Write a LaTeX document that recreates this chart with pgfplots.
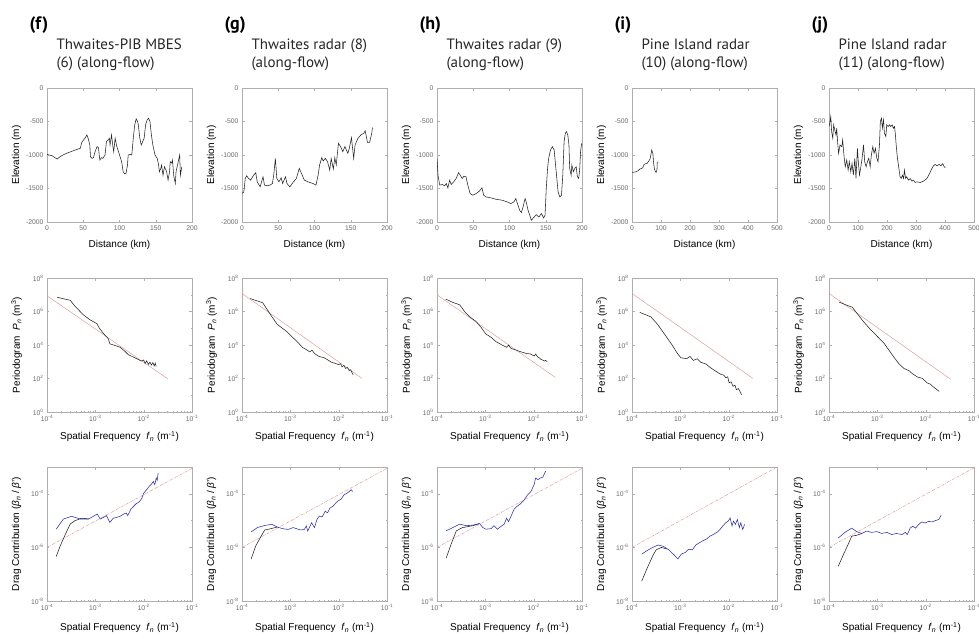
\documentclass[border=0pt]{standalone}
\usepackage{pgfplots}
\pgfplotsset{compat=1.18}
\usepackage{fontspec}
\setmainfont{Liberation Sans}
\newfontfamily\tfont{PT Sans}
\definecolor{ax}{RGB}{175,175,175}
\definecolor{tl}{RGB}{105,105,105}
\definecolor{fitR}{RGB}{222,150,150}
\definecolor{dragB}{RGB}{45,45,175}
\definecolor{dat}{RGB}{35,35,35}

\pgfplotsset{
  base/.style={scale only axis, width=145pt, height=134pt, anchor=north west,
    axis line style={draw=ax}, tick style={draw=ax, line width=0.3pt},
    tick align=inside, major tick length=2.5pt, minor tick length=1.3pt,
    ticklabel style={font=\fontsize{6.8}{8}\selectfont, text=tl},
    label style={font=\fontsize{9}{10}\selectfont, text=black!75},
    every axis y label/.style={at={(axis description cs:-0.21,0.5)}, rotate=90, anchor=center},
    every axis x label/.style={at={(axis description cs:0.5,-0.17)}, anchor=center},
    every axis plot/.append style={no marks, line width=0.5pt}},
  elev/.style={base, ymin=-2000, ymax=0, ytick={-2000,-1500,-1000,-500,0},
    yticklabels={-2000,-1500,-1000,-500,0}, ylabel={Elevation (m)}, xlabel={Distance (km)}},
  elevA/.style={elev, xmin=0, xmax=200, xtick={0,50,100,150,200}, xticklabels={0,50,100,150,200}},
  elevB/.style={elev, xmin=0, xmax=500, xtick={0,100,200,300,400,500}, xticklabels={0,100,200,300,400,500}},
  freq/.style={base, xmin=-4, xmax=-1, xtick={-4,-3,-2,-1},
    xticklabels={10\textsuperscript{-4},10\textsuperscript{-3},10\textsuperscript{-2},10\textsuperscript{-1}},
    minor xtick={-3.699,-3.523,-3.398,-3.301,-3.222,-3.155,-3.097,-3.046,
                 -2.699,-2.523,-2.398,-2.301,-2.222,-2.155,-2.097,-2.046,
                 -1.699,-1.523,-1.398,-1.301,-1.222,-1.155,-1.097,-1.046},
    xlabel={Spatial Frequency \ \textit{f}\textsubscript{\textit{n}} (m\textsuperscript{-1})}},
  peri/.style={freq, ymin=0, ymax=8, ytick={0,2,4,6,8},
    yticklabels={10\textsuperscript{0},10\textsuperscript{2},10\textsuperscript{4},10\textsuperscript{6},10\textsuperscript{8}},
    minor ytick={1,3,5,7},
    ylabel={Periodogram \ \textit{P}\textsubscript{\textit{n}} (m\textsuperscript{3})},
    every axis x label/.style={at={(axis description cs:0.5,-0.185)}, anchor=center}},
  drag/.style={freq, ymin=-8, ymax=-3, ytick={-8,-6,-4},
    yticklabels={10\textsuperscript{-8},10\textsuperscript{-6},10\textsuperscript{-4}},
    minor ytick={-7,-5},
    ylabel={Drag Contribution (\textit{β}\textsubscript{\textit{n}} / \textit{β}')},
    every axis x label/.style={at={(axis description cs:0.5,-0.2)}, anchor=center}},
  fit/.style={fitR, line width=0.45pt},
  fitd/.style={fitR, line width=0.45pt, dash pattern=on 3pt off 1pt on 0.6pt off 1pt},
  blk/.style={dat, line width=0.55pt},
  blu/.style={dragB, line width=0.55pt}
}

\newcommand\coltitle[4]{%
  \node[anchor=base west, font=\tfont\bfseries\fontsize{18}{20}\selectfont] at ({#1pt-21pt},-29pt) {#2};
  \node[anchor=base west, font=\tfont\fontsize{15}{17}\selectfont, text=black!85] at ({#1pt+6pt},-49pt) {#3};
  \node[anchor=base west, font=\tfont\fontsize{15}{17}\selectfont, text=black!85] at ({#1pt+6pt},-67pt) {#4};}

\begin{document}
\begin{tikzpicture}
\path[use as bounding box] (0,0) rectangle (979pt,-638pt);

\coltitle{47}{(f)}{Thwaites-PIB MBES}{(6) (along-flow)}
\coltitle{242}{(g)}{Thwaites radar (8)}{(along-flow)}
\coltitle{437}{(h)}{Thwaites radar (9)}{(along-flow)}
\coltitle{632}{(i)}{Pine Island radar}{(10) (along-flow)}
\coltitle{829}{(j)}{Pine Island radar}{(11) (along-flow)}

% ---------- row 1: elevation profiles ----------
\begin{axis}[elevA, at={(47pt,-88pt)}]
\addplot[blk] coordinates {(0,-990)(3,-1000)(7,-1010)(11,-1040)(14,-1060)(18,-1025)(22,-1000)(27,-975)(33,-950)(39,-925)(46,-900)(48,-810)(53,-740)(55,-700)(57,-760)(59,-850)(60,-1025)(62,-1050)(64,-1040)(66,-960)(69,-875)(71,-890)(72,-1000)(73,-1075)(75,-1040)(77,-1050)(80,-1000)(82,-800)(84,-780)(86,-750)(87,-850)(89,-700)(91,-880)(92,-950)(94,-750)(96,-860)(97,-900)(99,-960)(100,-1000)(103,-1100)(105,-1250)(107,-1280)(109,-1275)(111,-1150)(112,-1000)(115,-990)(117,-1000)(119,-750)(121,-550)(123,-460)(125,-500)(126,-550)(128,-750)(130,-850)(132,-800)(134,-750)(136,-550)(138,-480)(140,-450)(142,-500)(144,-700)(146,-850)(149,-1000)(152,-1050)(154,-1150)(155,-1250)(157,-1200)(158,-1150)(160,-1300)(162,-1175)(164,-1220)(165,-1250)(167,-1375)(169,-1250)(170,-1100)(172,-1120)(173,-1075)(175,-1325)(177,-1425)(178,-1250)(180,-1150)(181,-1100)(183,-1000)(184,-1300)(186,-1175)};
\end{axis}

\begin{axis}[elevA, at={(242pt,-88pt)}]
\addplot[blk] coordinates {(0,-1575)(2.5,-1550)(4.5,-1350)(6.5,-1310)(9,-1350)(12,-1375)(16,-1300)(19,-1265)(21,-1400)(25,-1475)(29,-1325)(31,-1450)(36,-1460)(40,-1440)(42,-1425)(44,-1275)(46,-1050)(48,-1350)(51,-1400)(54,-1340)(56,-1425)(60,-1325)(62,-1425)(66,-1475)(71,-1400)(75,-1350)(79,-1200)(82,-1275)(86,-1375)(91,-1400)(98,-1425)(102,-1450)(105,-1300)(107,-1150)(110,-1040)(112,-1090)(115,-1050)(118,-1100)(121,-1225)(123,-1050)(126,-1210)(128,-1040)(130,-1150)(133,-825)(136,-875)(139,-950)(142,-875)(146,-975)(148,-900)(151,-740)(154,-1050)(156,-850)(160,-750)(164,-700)(168,-675)(170,-640)(173,-810)(176,-810)(179,-675)(180,-590)};
\end{axis}

\begin{axis}[elevA, at={(437pt,-88pt)}]
\addplot[blk] coordinates {(0,-1050)(1.4,-1300)(3.7,-1450)(7.3,-1440)(10.5,-1460)(12.8,-1425)(15,-1490)(17.4,-1375)(19.6,-1440)(23,-1400)(26.5,-1350)(29.7,-1265)(32,-1300)(34.7,-1350)(37,-1315)(40,-1325)(42.5,-1450)(45.7,-1575)(49.3,-1600)(54,-1575)(58.4,-1540)(62,-1490)(64.4,-1600)(67.6,-1625)(74.4,-1640)(81,-1660)(90,-1675)(97,-1700)(102,-1725)(106,-1700)(108.7,-1650)(111,-1725)(114,-1825)(116.4,-1860)(118.7,-1775)(121.5,-1650)(123,-1700)(125.6,-1825)(128,-1900)(130,-1975)(134,-1925)(137,-1890)(140.6,-1925)(144,-1875)(147,-1940)(149,-1900)(150.7,-1500)(152.5,-1200)(154,-1050)(156.6,-925)(159,-875)(161.6,-925)(164.4,-1250)(167,-1550)(169.4,-1625)(171.7,-1600)(173.5,-1300)(175.3,-800)(177,-675)(178.5,-650)(180.4,-700)(182,-850)(183,-1200)(185,-1300)(186,-1150)(188,-1250)(190,-1200)(192,-1175)(193.6,-1325)(195.4,-1350)(196.8,-1225)(198,-950)(199.5,-825)};
\end{axis}

\begin{axis}[elevB, at={(632pt,-88pt)}]
\addplot[blk] coordinates {(0,-1260)(8,-1255)(15,-1250)(22,-1230)(27,-1210)(33,-1200)(37,-1190)(42,-1140)(47,-1130)(52,-1125)(58,-1090)(62,-1060)(65,-1000)(68,-925)(70,-950)(72,-975)(74,-1100)(77,-1200)(80,-1240)(83,-1260)(85,-1240)(86,-1225)(87,-1125)(90,-1100)};
\end{axis}

\begin{axis}[elevB, at={(829pt,-88pt)}]
\addplot[blk] coordinates {(0,-575)(3.5,-500)(6,-425)(9,-650)(13,-750)(16,-550)(21,-650)(24,-700)(26.5,-600)(30,-825)(33,-975)(38,-850)(44,-875)(47,-775)(52,-1025)(56,-1175)(61,-1075)(66,-1225)(70,-1100)(75,-1250)(79.5,-1125)(84,-1300)(89,-1050)(93,-1350)(98,-900)(101,-1100)(105,-1300)(109,-1200)(114,-1050)(119,-850)(123,-1100)(128,-1175)(132.5,-1100)(137,-1050)(142,-1175)(146,-1000)(151,-875)(155.5,-975)(160,-900)(165,-1050)(169,-1100)(174,-850)(177,-500)(181,-450)(184,-600)(188,-475)(191,-675)(196,-725)(199,-550)(204,-575)(208.5,-550)(213,-575)(217.7,-550)(222,-600)(226,-575)(229,-700)(231.6,-850)(236,-1050)(241,-1200)(245,-1325)(249,-1350)(253,-1300)(257,-1350)(260,-1225)(264,-1350)(268,-1325)(274,-1375)(280,-1350)(286,-1390)(291,-1375)(297,-1410)(303,-1400)(314.5,-1410)(326,-1390)(337.5,-1350)(347,-1275)(355,-1200)(360.6,-1160)(366,-1140)(372,-1160)(380,-1140)(386,-1160)(392,-1130)(397.5,-1175)(401,-1190)};
\end{axis}

% ---------- row 2: periodograms (log10 values) ----------
\begin{axis}[peri, at={(47pt,-278pt)}]
\addplot[fit] coordinates {(-4,6.94)(-1.5,1.98)};
\addplot[blk] coordinates {(-3.79,6.85)(-3.52,6.67)(-3.42,6.31)(-3.25,5.81)(-3.12,5.52)(-2.97,5.28)(-2.92,5.02)(-2.83,4.68)(-2.73,4.37)(-2.70,4.07)(-2.59,3.97)(-2.49,3.87)(-2.39,3.63)(-2.32,3.43)(-2.25,3.33)(-2.18,3.23)(-2.11,3.13)(-2.04,3.04)(-2.00,3.10)(-1.97,2.90)(-1.94,3.05)(-1.90,2.85)(-1.87,2.98)(-1.84,2.80)(-1.81,2.95)(-1.78,2.75)(-1.76,2.92)(-1.74,2.72)};
\end{axis}

\begin{axis}[peri, at={(242pt,-278pt)}]
\addplot[fit] coordinates {(-4,7.08)(-1.52,2.01)};
\addplot[blk] coordinates {(-3.83,6.77)(-3.57,6.52)(-3.42,5.85)(-3.27,5.23)(-3.08,4.82)(-2.95,4.45)(-2.86,4.21)(-2.75,3.86)(-2.67,3.73)(-2.60,3.59)(-2.55,3.69)(-2.50,3.49)(-2.41,3.32)(-2.30,3.24)(-2.23,3.12)(-2.15,2.97)(-2.08,2.91)(-2.00,2.83)(-1.96,2.88)(-1.93,2.70)(-1.89,2.78)(-1.86,2.60)(-1.82,2.66)(-1.78,2.48)(-1.75,2.52)(-1.72,2.32)(-1.70,2.22)};
\end{axis}

\begin{axis}[peri, at={(437pt,-278pt)}]
\addplot[fit] coordinates {(-4,7.0)(-1.55,2.06)};
\addplot[blk] coordinates {(-3.82,6.74)(-3.67,6.54)(-3.53,6.40)(-3.43,6.00)(-3.33,5.70)(-3.19,5.40)(-3.09,5.06)(-3.05,4.90)(-2.99,4.66)(-2.88,4.46)(-2.78,4.20)(-2.68,4.04)(-2.56,3.86)(-2.52,4.00)(-2.47,3.80)(-2.37,3.70)(-2.27,3.60)(-2.16,3.50)(-2.06,3.46)(-1.99,3.34)(-1.96,3.46)(-1.92,3.30)(-1.88,3.22)(-1.85,3.14)(-1.81,3.10)(-1.78,3.04)(-1.75,3.08)(-1.72,3.00)};
\end{axis}

\begin{axis}[peri, at={(632pt,-278pt)}]
\addplot[fit] coordinates {(-4,7.08)(-1.5,2.01)};
\addplot[blk] coordinates {(-3.84,5.95)(-3.61,5.68)(-3.47,5.23)(-3.32,4.62)(-3.17,4.00)(-3.06,3.49)(-2.99,3.24)(-2.87,3.18)(-2.80,3.32)(-2.73,3.08)(-2.65,3.18)(-2.58,2.97)(-2.47,2.87)(-2.39,2.67)(-2.28,2.46)(-2.17,2.26)(-2.10,2.20)(-2.06,2.05)(-2.02,2.10)(-1.99,1.74)(-1.95,1.80)(-1.91,1.54)(-1.87,1.60)(-1.84,1.33)(-1.80,1.40)(-1.76,1.19)(-1.73,1.03)};
\end{axis}

\begin{axis}[peri, at={(829pt,-278pt)}]
\addplot[fit] coordinates {(-4,7.08)(-1.48,1.95)};
\addplot[blk] coordinates {(-3.79,6.56)(-3.62,6.36)(-3.52,6.26)(-3.41,5.85)(-3.28,5.37)(-3.14,4.92)(-3.00,4.51)(-2.86,4.10)(-2.76,3.69)(-2.66,3.28)(-2.55,2.87)(-2.45,2.60)(-2.34,2.46)(-2.28,2.30)(-2.17,2.09)(-2.07,2.01)(-1.97,1.74)(-1.90,1.66)(-1.86,1.54)(-1.79,1.39)(-1.72,1.23)};
\end{axis}

% ---------- row 3: drag contribution (log10 values) ----------
\begin{axis}[drag, at={(47pt,-467pt)}]
\addplot[fitd] coordinates {(-4,-6.0)(-1,-3.05)};
\addplot[blk] coordinates {(-3.81,-6.34)(-3.73,-5.96)(-3.62,-5.51)(-3.52,-5.13)(-3.42,-5.00)(-3.28,-4.91)(-3.14,-4.94)};
\addplot[blu] coordinates {(-3.81,-5.32)(-3.66,-4.94)(-3.49,-4.84)(-3.31,-4.94)(-3.14,-4.94)(-3.04,-4.84)(-2.96,-4.75)(-2.90,-4.94)(-2.83,-4.88)(-2.77,-4.81)(-2.70,-5.07)(-2.63,-4.91)(-2.56,-4.88)(-2.49,-4.84)(-2.41,-4.75)(-2.36,-4.72)(-2.33,-4.81)(-2.26,-4.56)(-2.20,-4.45)(-2.15,-4.36)(-2.09,-4.30)(-2.04,-4.17)(-2.00,-3.98)(-1.94,-3.85)(-1.89,-3.73)(-1.84,-3.64)(-1.80,-3.54)(-1.77,-3.66)(-1.74,-3.41)(-1.72,-3.50)(-1.70,-3.22)};
\end{axis}

\begin{axis}[drag, at={(242pt,-467pt)}]
\addplot[fitd] coordinates {(-4,-6.0)(-1,-3.05)};
\addplot[blk] coordinates {(-3.81,-6.43)(-3.72,-5.96)(-3.62,-5.63)(-3.53,-5.35)(-3.40,-5.30)(-3.27,-5.24)};
\addplot[blu] coordinates {(-3.81,-5.42)(-3.68,-5.26)(-3.53,-5.18)(-3.38,-5.14)(-3.27,-5.24)(-3.16,-5.30)(-3.05,-5.33)(-2.94,-5.26)(-2.79,-5.35)(-2.71,-5.33)(-2.67,-5.20)(-2.64,-5.39)(-2.56,-5.08)(-2.50,-5.26)(-2.45,-4.96)(-2.40,-4.83)(-2.34,-4.86)(-2.28,-4.65)(-2.23,-4.71)(-2.18,-4.53)(-2.12,-4.47)(-2.06,-4.34)(-2.00,-4.25)(-1.95,-4.20)(-1.89,-4.04)(-1.83,-3.98)(-1.78,-3.91)(-1.74,-3.85)(-1.71,-3.91)};
\end{axis}

\begin{axis}[drag, at={(437pt,-467pt)}]
\addplot[fitd] coordinates {(-4,-6.0)(-1,-3.05)};
\addplot[blk] coordinates {(-3.81,-6.40)(-3.71,-5.89)(-3.60,-5.38)(-3.47,-5.26)(-3.26,-5.19)(-3.12,-5.11)};
\addplot[blu] coordinates {(-3.81,-5.38)(-3.67,-5.26)(-3.53,-5.13)(-3.40,-5.19)(-3.26,-5.17)(-3.12,-5.11)(-3.05,-5.26)(-2.99,-5.32)(-2.88,-5.30)(-2.82,-5.19)(-2.75,-5.32)(-2.68,-5.22)(-2.61,-5.13)(-2.56,-4.91)(-2.52,-5.04)(-2.47,-4.84)(-2.40,-4.56)(-2.34,-4.46)(-2.27,-4.37)(-2.20,-4.24)(-2.13,-4.05)(-2.06,-3.92)(-1.99,-3.66)(-1.96,-3.41)(-1.91,-3.47)(-1.86,-3.41)(-1.81,-3.38)(-1.77,-3.22)(-1.75,-3.15)};
\end{axis}

\begin{axis}[drag, at={(632pt,-467pt)}]
\addplot[fitd] coordinates {(-4,-6.0)(-1,-3.0)};
\addplot[blk] coordinates {(-3.80,-7.26)(-3.69,-6.79)(-3.57,-6.31)(-3.50,-6.09)(-3.39,-6.00)(-3.28,-6.06)};
\addplot[blu] coordinates {(-3.80,-6.25)(-3.69,-6.12)(-3.57,-6.00)(-3.46,-5.91)(-3.35,-5.96)(-3.24,-6.09)(-3.13,-6.28)(-3.05,-6.43)(-2.98,-6.25)(-2.90,-6.19)(-2.83,-6.07)(-2.75,-6.09)(-2.68,-5.91)(-2.60,-5.82)(-2.53,-5.75)(-2.46,-5.69)(-2.38,-5.57)(-2.31,-5.51)(-2.23,-5.42)(-2.18,-5.33)(-2.12,-5.20)(-2.06,-5.08)(-2.01,-5.02)(-1.97,-4.90)(-1.93,-5.20)(-1.90,-5.02)(-1.86,-5.14)(-1.82,-4.96)(-1.78,-5.26)(-1.75,-5.08)(-1.71,-5.33)(-1.67,-5.14)};
\end{axis}

\begin{axis}[drag, at={(829pt,-467pt)}]
\addplot[fitd] coordinates {(-4,-6.0)(-1,-3.03)};
\addplot[blk] coordinates {(-3.81,-6.71)(-3.70,-6.26)(-3.60,-5.87)(-3.53,-5.58)(-3.43,-5.55)(-3.32,-5.48)};
\addplot[blu] coordinates {(-3.81,-5.65)(-3.67,-5.44)(-3.53,-5.28)(-3.43,-5.41)(-3.32,-5.48)(-3.22,-5.39)(-3.12,-5.44)(-3.01,-5.41)(-2.91,-5.48)(-2.80,-5.44)(-2.70,-5.52)(-2.60,-5.48)(-2.49,-5.52)(-2.42,-5.44)(-2.38,-5.52)(-2.32,-5.28)(-2.27,-5.21)(-2.21,-5.28)(-2.15,-5.15)(-2.08,-5.05)(-2.01,-5.09)(-1.94,-5.03)(-1.87,-5.05)(-1.80,-5.00)(-1.73,-4.96)(-1.68,-4.80)};
\end{axis}
\end{tikzpicture}
\end{document}
